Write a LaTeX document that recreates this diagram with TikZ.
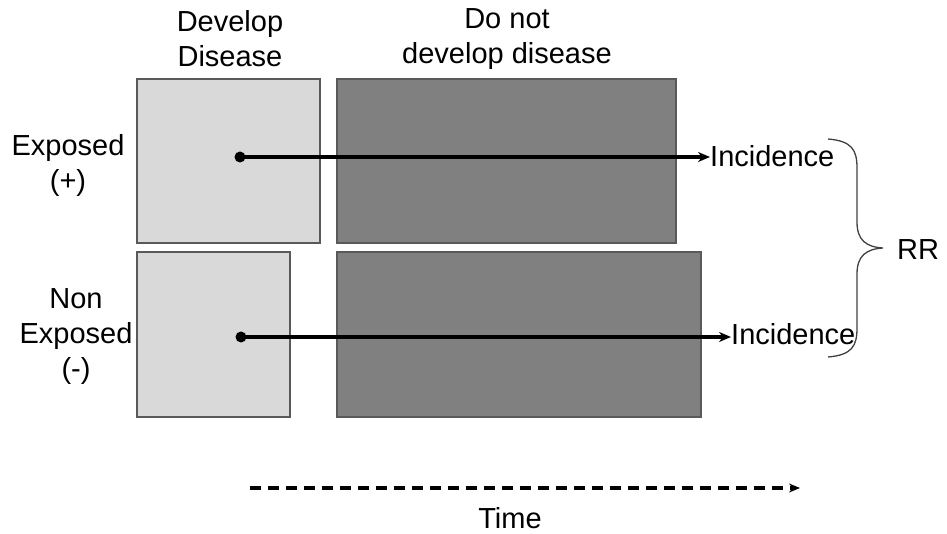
\documentclass[tikz,border=0pt]{standalone}
\usepackage{fontspec}
\setmainfont{Liberation Sans}
\usetikzlibrary{arrows.meta}
\begin{document}
\begin{tikzpicture}[x=1pt,y=-1pt,
  lightbox/.style={draw=black!65, line width=1.6pt, fill=black!15, inner sep=0pt},
  darkbox/.style={draw=black!65, line width=1.6pt, fill=black!50, inner sep=0pt},
  lbl/.style={font=\fontsize{29}{35}\selectfont, align=center, inner sep=0pt},
  dot/.style={circle, fill=black, inner sep=0pt, minimum size=11pt},
  flow/.style={line width=3.6pt, -{Stealth[length=12pt,width=10pt]}}
]
\useasboundingbox (0,0) rectangle (947,534);
% boxes
\node[lightbox, minimum width=183pt, minimum height=164pt] (tl) at (228.5,161) {};
\node[darkbox, minimum width=339pt, minimum height=164pt] (td) at (506.5,161) {};
\node[lightbox, minimum width=153pt, minimum height=165pt] (bl) at (213.5,334.5) {};
\node[darkbox, minimum width=364pt, minimum height=165pt] (bd) at (519,334.5) {};
% headings
\node[lbl] (h1) at (230,39) {Develop\\Disease};
\node[lbl] (h2) at (507,39) {Do not\\develop disease};
\node[lbl] (r1) at (68,165) {Exposed\\(+)};
\node[lbl] (r2) at (76,337) {Non\\Exposed\\(-)};
% arrows
\node[dot] (d1) at (240,157) {};
\node[lbl, anchor=west] (i1) at (710,156) {Incidence};
\draw[flow] (d1.center) -- (d1.center -| i1.west);
\node[dot] (d2) at (241,337) {};
\node[lbl, anchor=west] (i2) at (731,334) {Incidence};
\draw[flow] (d2.center) -- (d2.center -| i2.west);
% brace
\coordinate (bt) at (828,139);
\coordinate (bb) at (828,357);
\coordinate (tip) at (883,248);
\draw[line width=1.3pt, black!75] (bt) .. controls (852,141) and (857,150) .. (857,168)
  -- (857,222) .. controls (857,240) and (866,247) .. (tip)
  .. controls (866,249) and (857,256) .. (857,274)
  -- (857,328) .. controls (857,346) and (852,355) .. (bb);
\node[lbl, anchor=west] (rr) at (897,250) {RR};
% time
\coordinate (ts) at (250,488);
\coordinate (te) at (800,488);
\draw[line width=3.3pt, dash pattern=on 11pt off 7pt, -{Stealth[length=11pt,width=9pt]}] (ts) -- (te);
\node[lbl] (time) at (510,518) {Time};
\end{tikzpicture}
\end{document}
